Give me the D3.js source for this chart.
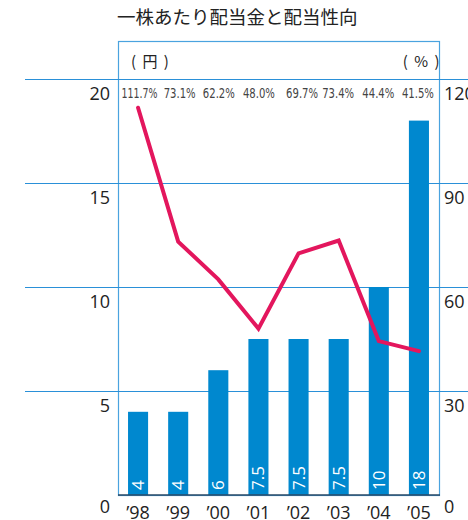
<!DOCTYPE html>
<html>
<head>
<meta charset="utf-8">
<script src="https://cdn.jsdelivr.net/npm/d3@7"></script>
<style>
body { margin: 0; background: #fff; }
svg { display: block; }
</style>
</head>
<body>
<div class="chart"></div>
<script>
var years = ['’98', '’99', '’00', '’01', '’02', '’03', '’04', '’05'];
var dividends = [4, 4, 6, 7.5, 7.5, 7.5, 10, 18];
var payout = [111.7, 73.1, 62.2, 48.0, 69.7, 73.4, 44.4, 41.5];
var payoutLabels = ['111.7%', '73.1%', '62.2%', '48.0%', '69.7%', '73.4%', '44.4%', '41.5%'];
var leftTicks = [0, 5, 10, 15, 20];
var rightTicks = [0, 30, 60, 90, 120];

(() => {
var width = 468,
    height = 520,
    frame = {left: 118, right: 439, top: 41, bottom: 495};

var svg = d3.select('div.chart')
    .append('svg')
        .attr('width', width)
        .attr('height', height);

var x = d3.scaleBand()
    .domain(years)
    .range([frame.left, frame.right])
    .paddingInner(0.5)
    .paddingOuter(0.25);

var y = d3.scaleLinear()
    .domain([0, 20])
    .range([frame.bottom, 79]);

var y2 = d3.scaleLinear()
    .domain([0, 120])
    .range([frame.bottom, 79]);

var font = '"Open Sans", "Noto Sans CJK JP", sans-serif';
var jp = '"Noto Sans CJK JP", sans-serif';

// title
svg.append('text')
    .attr('x', 117)
    .attr('y', 24)
    .text('一株あたり配当金と配当性向')
    .style('font-family', jp)
    .style('font-size', '18.5px')
    .style('fill', '#222');

// frame
svg.append('rect')
    .attr('x', frame.left + 0.5)
    .attr('y', frame.top + 0.5)
    .attr('width', frame.right - frame.left)
    .attr('height', frame.bottom - frame.top)
    .style('fill', 'none')
    .style('stroke', '#4aa3df')
    .style('stroke-width', 1.2);

// gridlines
svg.append('g')
    .selectAll('line')
    .data(leftTicks.filter(d => d > 0))
    .enter()
    .append('line')
        .attr('x1', 25)
        .attr('x2', width)
        .attr('y1', d => Math.round(y(d)) + 0.5)
        .attr('y2', d => Math.round(y(d)) + 0.5)
        .style('stroke', '#2a90d8')
        .style('stroke-width', 1.2);

// left axis
svg.append('g')
    .selectAll('text')
    .data(leftTicks)
    .enter()
    .append('text')
        .attr('x', 110)
        .attr('y', d => y(d) + (d === 0 ? 18 : 21))
        .attr('text-anchor', 'end')
        .text(d => d)
        .style('font-family', font)
        .style('font-size', '18px')
        .style('fill', '#222');

// right axis
svg.append('g')
    .selectAll('text')
    .data(rightTicks)
    .enter()
    .append('text')
        .attr('x', 444)
        .attr('y', d => y2(d) + (d === 0 ? 18 : 21))
        .text(d => d)
        .style('font-family', font)
        .style('font-size', '18px')
        .style('fill', '#222');

// units
svg.append('text')
    .attr('x', 131)
    .attr('y', 67)
    .text('( 円 )')
    .style('font-family', jp)
    .style('font-size', '15px')
    .style('letter-spacing', '1.5px')
    .style('fill', '#222');
svg.append('text')
    .attr('x', 441)
    .attr('y', 67)
    .attr('text-anchor', 'end')
    .text('( % )')
    .style('font-family', jp)
    .style('font-size', '15px')
    .style('letter-spacing', '1.5px')
    .style('fill', '#222');

// bars
svg.append('g')
    .selectAll('rect')
    .data(dividends)
    .enter()
    .append('rect')
        .attr('x', (d, i) => x(years[i]))
        .attr('y', d => y(d))
        .attr('width', x.bandwidth())
        .attr('height', d => y(0) - y(d))
        .style('fill', '#0088cf');

// bar value labels
svg.append('g')
    .selectAll('text')
    .data(dividends)
    .enter()
    .append('text')
        .attr('transform', (d, i) => 'translate(' + (x(years[i]) + x.bandwidth() / 2 + 6) + ',' + (frame.bottom - 5) + ') rotate(-90)')
        .text(d => d)
        .style('font-family', font)
        .style('font-size', '17px')
        .style('fill', '#fff');

// bottom axis line
svg.append('line')
    .attr('x1', frame.left)
    .attr('x2', frame.right + 1)
    .attr('y1', frame.bottom)
    .attr('y2', frame.bottom)
    .style('stroke', '#2b4a66')
    .style('stroke-width', 1.5);

// x labels
svg.append('g')
    .selectAll('text')
    .data(years)
    .enter()
    .append('text')
        .attr('x', d => x(d) + x.bandwidth() / 2)
        .attr('y', 519)
        .attr('text-anchor', 'middle')
        .text(d => d)
        .style('font-family', font)
        .style('font-size', '18px')
        .style('fill', '#222');

// payout labels (nudged the way the original typesetting sits)
var nudge = [1.5, 1.5, 0.5, 0.5, 3.5, -0.5, -0.5, -1];
svg.append('g')
    .selectAll('text')
    .data(payoutLabels)
    .enter()
    .append('text')
        .attr('x', (d, i) => x(years[i]) + x.bandwidth() / 2 + nudge[i])
        .attr('y', 98)
        .attr('text-anchor', 'middle')
        .attr('textLength', d => d.length > 5 ? 36 : 32)
        .attr('lengthAdjust', 'spacingAndGlyphs')
        .text(d => d)
        .style('font-family', '"DejaVu Sans Condensed", "Liberation Sans Narrow", sans-serif')
        .style('font-size', '14px')
        .style('fill', '#444');

// payout line
var line = d3.line()
    .x((d, i) => x(years[i]) + x.bandwidth() / 2)
    .y(d => y2(d));

svg.append('path')
    .datum(payout)
    .attr('d', line)
    .style('fill', 'none')
    .style('stroke', '#e3165d')
    .style('stroke-width', 4)
    .style('stroke-linejoin', 'miter')
    .style('stroke-linecap', 'round');
})();
</script>
</body>
</html>
